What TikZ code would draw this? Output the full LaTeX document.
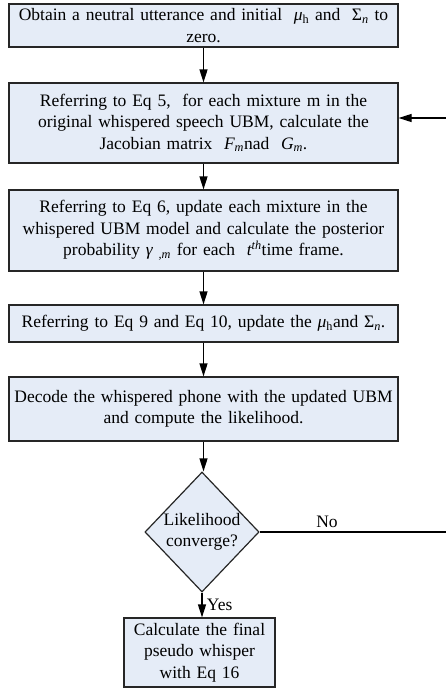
\documentclass[tikz,border=0pt]{standalone}
\usepackage{fontspec}
\setmainfont{Liberation Serif}
\usetikzlibrary{arrows.meta,shapes.geometric}

% italic symbol helpers set in the text font
\newcommand{\symi}[1]{{\itshape #1}}
\newcommand{\lowsub}[1]{\textsubscript{#1}}

\begin{document}
\begin{tikzpicture}[x=1pt,y=-1pt,
  every node/.style={font=\fontsize{17.5}{21.5}\selectfont},
  procbox/.style={draw=black!85, line width=1.2pt, fill=boxfill, align=center,
    inner sep=0pt, text width=#1},
  procbox/.default=385pt,
  decision/.style={diamond, draw=black!85, line width=1.2pt, fill=boxfill,
    align=center, inner sep=0pt, minimum width=114pt, minimum height=120pt},
  flow/.style={line width=1.2pt, -{Triangle[length=13pt,width=8pt]}},
  plainline/.style={line width=1.2pt}
]
\definecolor{boxfill}{RGB}{229,236,247}
\useasboundingbox (0,0) rectangle (446,688);

% process steps
\node[procbox, minimum width=389pt, minimum height=43pt] (b1) at (203.5,25.5)
  {Obtain a neutral utterance and initial \ \symi{μ}\lowsub{h} and \ Σ\lowsub{\itshape n} to\\zero.};
\node[procbox, minimum width=389pt, minimum height=80pt] (b2) at (203.5,123)
  {Referring to Eq 5, \ for each mixture m in the\\original whispered speech UBM, calculate the\\Jacobian matrix \ \symi{F}\lowsub{\itshape m}nad \ \symi{G}\lowsub{\itshape m}.};
\node[procbox, minimum width=389pt, minimum height=81pt] (b3) at (203.5,230.5)
  {Referring to Eq 6, update each mixture in the\\whispered UBM model and calculate the posterior\\probability \symi{γ} \lowsub{\itshape ,m} for each \ \symi{t}\textsuperscript{\itshape th}time frame.};
\node[procbox, minimum width=389pt, minimum height=37pt] (b4) at (203.5,323.5)
  {Referring to Eq 9 and Eq 10, update the \symi{μ}\lowsub{h}and Σ\lowsub{\itshape n}.};
\node[procbox, minimum width=389pt, minimum height=64pt] (b5) at (203.5,409)
  {Decode the whispered phone with the updated UBM\\and compute the likelihood.};

% convergence test
\node[decision] (dec) at (202,532) {Likelihood\\converge?};

% final step
\node[procbox=150pt, minimum width=151pt, minimum height=69pt] (b6) at (199.5,652.5)
  {Calculate the final\\pseudo whisper\\with Eq 16};

% main flow
\draw[flow] (b1.south) -- (b2.north);
\draw[flow] (b2.south) -- (b3.north);
\draw[flow] (b3.south) -- (b4.north);
\draw[flow] (b4.south) -- (b5.north);
\draw[flow] (b5.south) -- (b5.south |- dec.north);
\draw[flow] (dec.south) -- (dec.south |- b6.north)
  node[midway, right, xshift=1pt] (yes) {Yes};

% loop back when not converged
\coordinate (loopcorner) at (452,532);
\coordinate (loopturn) at (452,118);
\draw[plainline] (dec.east) -- (loopcorner)
  node[pos=0.35, above, yshift=0pt] (no) {No};
\draw[plainline] (loopcorner) -- (loopturn);
\draw[flow] (loopturn) -- (loopturn -| b2.east);
\end{tikzpicture}
\end{document}
